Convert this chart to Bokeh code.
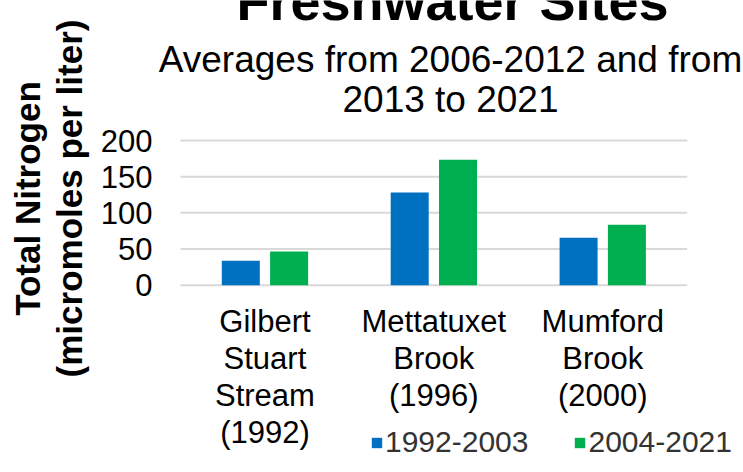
import math
from bokeh.plotting import figure
from bokeh.models import (Range1d, Label, Legend, LegendItem, ColumnDataSource)
from bokeh.core.properties import value
from bokeh.embed import file_html
from bokeh.resources import INLINE

# ---- data ----
sites = ["Gilbert\nStuart\nStream\n(1992)", "Mettatuxet\nBrook\n(1996)", "Mumford\nBrook\n(2000)"]
period_labels = ["1992-2003", "2004-2021"]
avg_1992_2003 = [33.7, 128.1, 65.5]
avg_2004_2021 = [46.6, 173.3, 83.5]
y_ticks = [0, 50, 100, 150, 200]
title_text = "Freshwater Sites"
subtitle_lines = ["Averages from 2006-2012 and from", "2013 to 2021"]
ylabel_lines = ["Total Nitrogen", "(micromoles per liter)"]

BLUE = "#0070C0"
GREEN = "#00B050"
FONT = "Liberation Sans"
W, H = 743, 472

# layout (pixels): plot area left/right and value axis top/bottom
PA_LEFT, PA_RIGHT = 180.0, 686.7
PA_TOP, PA_BOTTOM = 140.0, 284.7
n = len(sites)
ymax = y_ticks[-1]
px_per_cat = (PA_RIGHT - PA_LEFT) / n
px_per_val = (PA_BOTTOM - PA_TOP) / ymax

x_range = Range1d(-PA_LEFT / px_per_cat, (W - PA_LEFT) / px_per_cat)
y_range = Range1d(-(H - PA_BOTTOM) / px_per_val, PA_BOTTOM / px_per_val)

p = figure(x_range=x_range, y_range=y_range, width=W, height=H,
           output_backend="svg", toolbar_location=None,
           x_axis_location=None, y_axis_location=None, min_border=0)
p.outline_line_color = None
p.grid.visible = False

centers = [i + 0.5 for i in range(n)]
BAR_W = 0.225
OFF = 0.143

# gridlines
p.segment(x0=[0] * len(y_ticks), x1=[n] * len(y_ticks), y0=y_ticks, y1=y_ticks,
          line_color="#D9D9D9", line_width=2)

src = ColumnDataSource(dict(xa=[c - OFF for c in centers], xb=[c + OFF for c in centers],
                            a=avg_1992_2003, b=avg_2004_2021))
r1 = p.vbar(x="xa", top="a", width=BAR_W, source=src, fill_color=BLUE, line_color=None)
r2 = p.vbar(x="xb", top="b", width=BAR_W, source=src, fill_color=GREEN, line_color=None)

# value-axis tick labels (28 px left of the plot area)
tick_x = -28 / px_per_cat
p.text(x=[tick_x] * len(y_ticks), y=y_ticks, text=[str(t) for t in y_ticks],
       text_align="right", text_baseline="middle",
       text_font=value(FONT), text_font_size="31px", text_color="black")

# category labels (19 px below the zero line)
cat_y = -19 / px_per_val
p.text(x=centers, y=[cat_y] * n, text=sites, text_align="center",
       text_baseline="top", text_line_height=1.06,
       text_font=value(FONT), text_font_size="31px", text_color="black")

def sy(y_window):
    return H - y_window

# title and subtitle
p.add_layout(Label(x=452, y=sy(0), x_units="screen", y_units="screen",
                   text=title_text, text_font=FONT, text_font_size="54px",
                   text_font_style="bold", text_align="center",
                   text_baseline="alphabetic", text_color="black"))
for txt, yy in zip(subtitle_lines, [58.5, 98.5]):
    p.add_layout(Label(x=450, y=sy(yy), x_units="screen", y_units="screen",
                       text=txt, text_font=FONT, text_font_size="37px",
                       text_align="center", text_baseline="alphabetic",
                       text_color="black"))

# value axis title (two lines)
for txt, xx in zip(ylabel_lines, [27, 69]):
    p.add_layout(Label(x=xx, y=sy(198), x_units="screen", y_units="screen",
                       angle=math.pi / 2, text=txt, text_font=FONT,
                       text_font_size="35px", text_font_style="bold",
                       text_align="center", text_baseline="alphabetic",
                       text_color="black"))

legend = Legend(items=[LegendItem(label=period_labels[0], renderers=[r1]),
                       LegendItem(label=period_labels[1], renderers=[r2])],
                orientation="horizontal", location=(370, 13),
                glyph_width=13, glyph_height=13, label_standoff=2, spacing=45,
                padding=0, margin=0, border_line_color=None,
                background_fill_alpha=0, label_text_font=FONT,
                label_text_font_size="30px", label_text_color="#333333")
p.add_layout(legend)

open("out.html", "w").write(file_html(p, INLINE))
